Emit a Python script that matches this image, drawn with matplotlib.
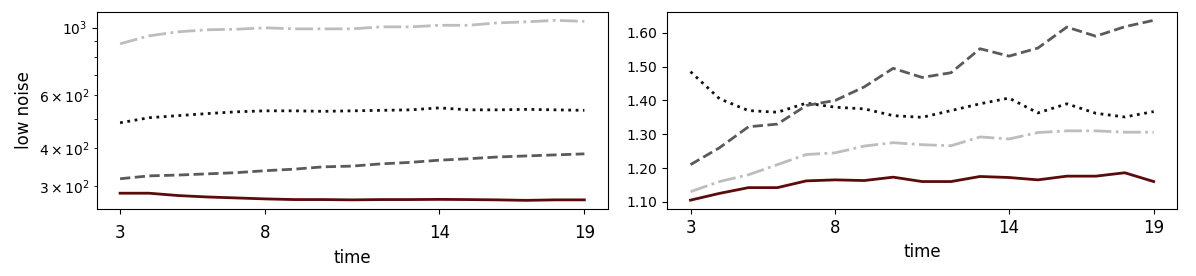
import matplotlib
matplotlib.use('Agg')
import matplotlib.pyplot as plt

## data
time = list(range(3, 20))
xticks = [3, 8, 14, 19]

# left panel (log scale)
left_dashdot = [884, 939, 968, 983, 987, 998, 990, 990, 990, 1005, 1005, 1017, 1017, 1036, 1044, 1056, 1048]
left_dotted = [486, 505, 513, 521, 528, 532, 532, 530, 532, 534, 536, 544, 536, 536, 538, 536, 534]
left_dashed = [318, 325, 327, 330, 333, 338, 342, 348, 350, 356, 360, 366, 370, 375, 378, 381, 384]
left_solid = [285, 285, 280, 277, 275, 273, 271.6, 271.6, 271, 271.6, 271.6, 272, 271.6, 271, 270, 271, 271]

# right panel
right_dotted = [1.485, 1.405, 1.37, 1.365, 1.392, 1.38, 1.375, 1.355, 1.35, 1.37, 1.39, 1.407, 1.363, 1.39, 1.362, 1.351, 1.367]
right_dashed = [1.21, 1.26, 1.322, 1.33, 1.385, 1.40, 1.44, 1.495, 1.468, 1.482, 1.553, 1.531, 1.555, 1.617, 1.59, 1.618, 1.637]
right_dashdot = [1.13, 1.16, 1.18, 1.21, 1.24, 1.245, 1.265, 1.275, 1.269, 1.266, 1.292, 1.286, 1.305, 1.31, 1.31, 1.306, 1.306]
right_solid = [1.105, 1.125, 1.142, 1.142, 1.162, 1.165, 1.163, 1.173, 1.16, 1.16, 1.175, 1.172, 1.165, 1.176, 1.176, 1.186, 1.16]

solid_c = '#5c0a0a'
dashed_c = '#5a5a5a'
dashdot_c = '#bdbdbd'
dotted_c = '#111111'

fig = plt.figure(figsize=(11.96, 2.76), dpi=100)
ax1 = fig.add_axes([0.081, 0.243, 0.427, 0.714])
ax2 = fig.add_axes([0.558, 0.243, 0.426, 0.714])

def draw(ax, dashdot, dotted, dashed, solid, pad, labelpad):
    ax.plot(time, dashdot, color=dashdot_c, linestyle='-.', linewidth=2)
    ax.plot(time, dotted, color=dotted_c, linestyle=':', linewidth=2)
    ax.plot(time, dashed, color=dashed_c, linestyle='--', linewidth=2)
    ax.plot(time, solid, color=solid_c, linestyle='-', linewidth=2)
    ax.set_xticks(xticks)
    ax.set_xticklabels([str(t) for t in xticks], fontsize=12)
    ax.tick_params(axis='x', pad=pad)
    ax.set_xlabel('time', fontsize=12, labelpad=labelpad)
    ax.set_xlim(2.2, 19.8)

draw(ax1, left_dashdot, left_dotted, left_dashed, left_solid, 7.1, 5.4)
ax1.set_yscale('log')
ax1.set_ylim(253, 1126)
ax1.set_ylabel('low noise', fontsize=12)

draw(ax2, right_dashdot, right_dotted, right_dashed, right_solid, 3.5, 4.7)
ax2.set_ylim(1.079, 1.662)
ax2.set_yticks([1.1, 1.2, 1.3, 1.4, 1.5, 1.6])
ax2.set_yticklabels(['%.2f' % v for v in [1.1, 1.2, 1.3, 1.4, 1.5, 1.6]])

plt.savefig('out.png', dpi=100)
